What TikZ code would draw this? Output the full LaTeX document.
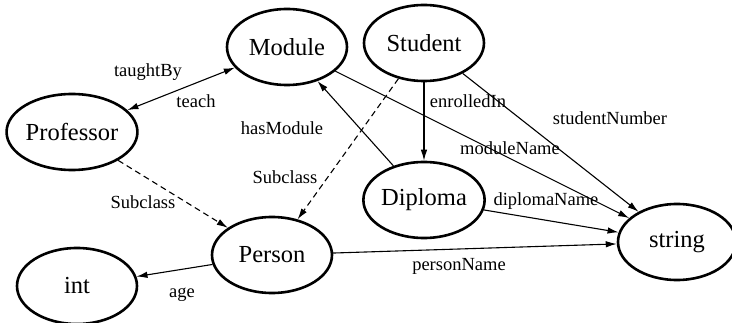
\documentclass[tikz,border=0pt]{standalone}
\usepackage{fontspec}
\setmainfont{Liberation Serif}
\usetikzlibrary{shapes.geometric,arrows.meta}
\begin{document}
\begin{tikzpicture}[x=1pt,y=-1pt,
  cls/.style={ellipse,draw,line width=2.6pt,minimum width=120pt,minimum height=76pt,inner sep=0pt,font=\rmfamily\fontsize{24.5}{28}\selectfont},
  rel/.style={line width=1.1pt,-{Latex[length=11pt,width=6.5pt]}},
  sub/.style={rel,dashed,dash pattern=on 6pt off 4pt},
  lbl/.style={font=\rmfamily\fontsize{18.5}{21}\selectfont,inner sep=0pt}]
\useasboundingbox (0,0) rectangle (732,323);
\node[cls] (module) at (287,47) {Module};
\node[cls] (student) at (424,43) {Student};
\node[cls,minimum width=124pt] (prof) at (72,132) {Professor};
\node[cls] (diploma) at (424,200) {Diploma};
\node[cls,minimum width=118pt] (string) at (677,242) {string};
\node[cls] (person) at (272,255) {Person};
\node[cls] (int) at (77,286) {int};
\draw[rel,{Latex[length=11pt,width=6.5pt]}-{Latex[length=11pt,width=6.5pt]}] (prof) -- (module);
\draw[sub] (prof) -- (person);
\draw[sub] (student) -- (person);
\draw[rel] (diploma) -- (module);
\draw[rel] (student) -- (diploma);
\draw[rel] (module) -- (string);
\draw[rel] (student) -- (string);
\draw[rel] (diploma) -- (string);
\draw[rel] (person) -- (string);
\draw[rel] (person) -- (int);
\node[lbl] (l1) at (148,72) {taughtBy};
\node[lbl] (l2) at (196,101) {teach};
\node[lbl] (l3) at (143,202) {Subclass};
\node[lbl] (l4) at (285,177) {Subclass};
\node[lbl] (l5) at (282,128) {hasModule};
\node[lbl] (l6) at (468,101) {enrolledIn};
\node[lbl] (l7) at (510,148) {moduleName};
\node[lbl] (l8) at (610,118) {studentNumber};
\node[lbl] (l9) at (546,201) {diplomaName};
\node[lbl] (l10) at (459,266) {personName};
\node[lbl] (l11) at (182,295) {age};
\end{tikzpicture}
\end{document}
